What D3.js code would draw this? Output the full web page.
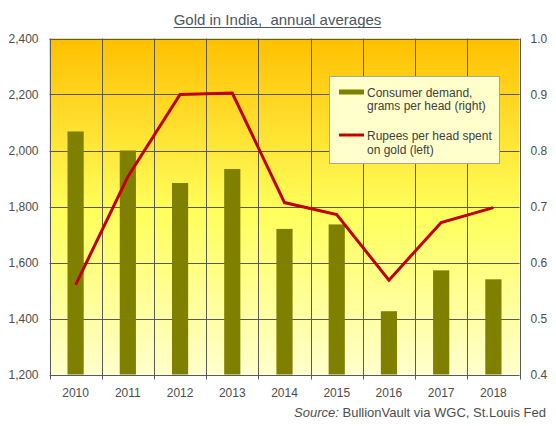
<!DOCTYPE html>
<html>
<head>
<meta charset="utf-8">
<script src="https://cdn.jsdelivr.net/npm/d3@7"></script>
<style>
	body { margin: 0; background: #fff; }
	svg { display: block; font-family: "Liberation Sans", Arial, sans-serif; }
	.tick-label { fill: #4d4d4d; font-size: 12px; }
	.legend-text { fill: #404040; font-size: 12px; }
</style>
</head>
<body>
<svg id="chart" width="556" height="426"></svg>
<script>
var years = ['2010', '2011', '2012', '2013', '2014', '2015', '2016', '2017', '2018'];
var gramsPerHead = [0.834, 0.800, 0.742, 0.767, 0.660, 0.668, 0.513, 0.586, 0.570];
var rupeesPerHead = [1520, 1906, 2200, 2205, 1814, 1771, 1537, 1743, 1796];
var leftTicks = [1200, 1400, 1600, 1800, 2000, 2200, 2400];
var rightTicks = [0.4, 0.5, 0.6, 0.7, 0.8, 0.9, 1.0];

(function(d3) {
	'use strict';

	var svg = d3.select('#chart');
	var left = 49.5, top = 38.5, width = 470, height = 336;
	var gridColor = '#595959';

	var x = d3.scaleBand().domain(years).range([left, left + width]);
	var yLeft = d3.scaleLinear().domain([1200, 2400]).range([top + height, top]);
	var yRight = d3.scaleLinear().domain([0.4, 1.0]).range([top + height, top]);

	/** background */
	var grad = svg.append('defs').append('linearGradient')
		.attr('id', 'bg').attr('x1', 0).attr('y1', 0).attr('x2', 0).attr('y2', 1);
	grad.append('stop').attr('offset', '0%').attr('stop-color', '#ffc000');
	grad.append('stop').attr('offset', '52%').attr('stop-color', '#ffff5c');
	grad.append('stop').attr('offset', '100%').attr('stop-color', '#ffffcc');

	svg.append('rect')
		.attr('x', left).attr('y', top)
		.attr('width', width).attr('height', height)
		.attr('fill', 'url(#bg)');

	/** grid */
	var grid = svg.append('g').attr('stroke', gridColor).attr('stroke-width', 1);
	grid.selectAll('line.h').data(leftTicks).enter().append('line')
		.attr('class', 'h')
		.attr('x1', left).attr('x2', left + width)
		.attr('y1', function(d) { return Math.round(yLeft(d)) + 0.5; })
		.attr('y2', function(d) { return Math.round(yLeft(d)) + 0.5; });

	var boundaries = years.map(function(y) { return x(y); }).concat([left + width]);
	grid.selectAll('line.v').data(boundaries).enter().append('line')
		.attr('class', 'v')
		.attr('x1', function(d) { return Math.round(d) + 0.5; })
		.attr('x2', function(d) { return Math.round(d) + 0.5; })
		.attr('y1', top).attr('y2', top + height + 5);

	/** bars */
	var barWidth = x.bandwidth() * 0.31;
	svg.append('g').selectAll('rect').data(gramsPerHead).enter().append('rect')
		.attr('x', function(d, i) { return x(years[i]) + (x.bandwidth() - barWidth) / 2; })
		.attr('y', function(d) { return yRight(d); })
		.attr('width', barWidth)
		.attr('height', function(d) { return yRight(0.4) - yRight(d); })
		.attr('fill', '#808000');

	/** line */
	var line = d3.line()
		.x(function(d, i) { return x(years[i]) + x.bandwidth() / 2; })
		.y(function(d) { return yLeft(d); });
	svg.append('path').datum(rupeesPerHead)
		.attr('d', line)
		.attr('fill', 'none')
		.attr('stroke', '#c00000')
		.attr('stroke-width', 3)
		.attr('stroke-linejoin', 'miter');

	/** axes */
	var leftAxis = d3.axisLeft(yLeft).tickValues(leftTicks).tickSize(0).tickPadding(11)
		.tickFormat(d3.format(','));
	var gl = svg.append('g').attr('transform', 'translate(' + left + ',0)').call(leftAxis);

	var rightAxis = d3.axisRight(yRight).tickValues(rightTicks).tickSize(0).tickPadding(11)
		.tickFormat(d3.format('.1f'));
	var gr = svg.append('g').attr('transform', 'translate(' + (left + width) + ',0)').call(rightAxis);

	var bottomAxis = d3.axisBottom(x).tickSize(0).tickPadding(14);
	var gb = svg.append('g').attr('transform', 'translate(0,' + (top + height) + ')').call(bottomAxis);

	[gl, gr, gb].forEach(function(g) {
		g.select('.domain').remove();
		g.selectAll('text').attr('class', 'tick-label').attr('fill', null)
			.style('font-family', null).style('font-size', null);
		g.attr('font-family', null).attr('font-size', null);
	});

	/** legend */
	var legend = svg.append('g').attr('transform', 'translate(329,76.5)');
	legend.append('rect')
		.attr('x', 0.5).attr('y', 0)
		.attr('width', 170).attr('height', 87)
		.attr('fill', '#ffffcc').attr('stroke', '#a6a6a6');
	legend.append('rect')
		.attr('x', 10).attr('y', 13).attr('width', 25).attr('height', 5)
		.attr('fill', '#808000');
	legend.append('line')
		.attr('x1', 10).attr('x2', 35).attr('y1', 58.5).attr('y2', 58.5)
		.attr('stroke', '#c00000').attr('stroke-width', 3);
	var legendLines = [
		['Consumer demand,', 20],
		['grams per head (right)', 33.5],
		['Rupees per head spent', 63],
		['on gold (left)', 77]
	];
	legend.selectAll('text').data(legendLines).enter().append('text')
		.attr('class', 'legend-text')
		.attr('x', 38).attr('y', function(d) { return d[1]; })
		.text(function(d) { return d[0]; });

	/** title */
	var title = svg.append('text')
		.attr('x', 277.5).attr('y', 25)
		.attr('text-anchor', 'middle')
		.attr('fill', '#4d5561')
		.style('font-size', '15px')
		.text('Gold in India,\u00a0\u00a0annual averages');
	var tw = title.node().getComputedTextLength();
	svg.append('line')
		.attr('x1', 277.5 - tw / 2).attr('x2', 277.5 + tw / 2)
		.attr('y1', 27.5).attr('y2', 27.5)
		.attr('stroke', '#4d5561').attr('stroke-width', 1);

	/** source */
	var source = svg.append('text')
		.attr('x', 546).attr('y', 417)
		.attr('text-anchor', 'end')
		.attr('fill', '#4d4d4d')
		.style('font-size', '13px');
	source.append('tspan').style('font-style', 'italic').text('Source:');
	source.append('tspan').text(' BullionVault via WGC, St.Louis Fed');
})(d3);
</script>
</body>
</html>
